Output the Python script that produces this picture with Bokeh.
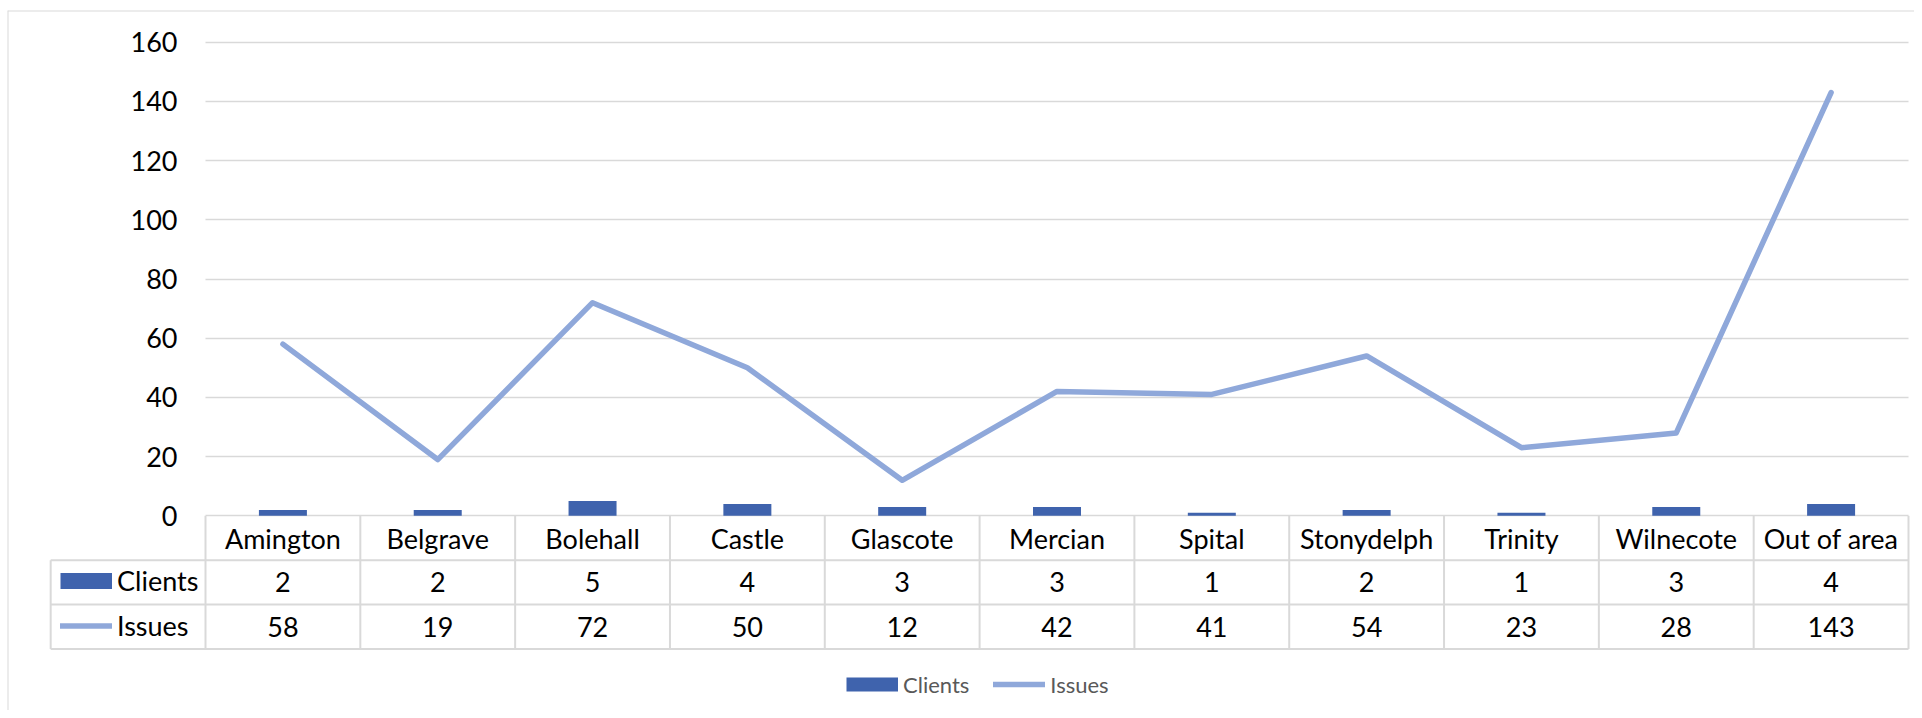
import numpy as np
from bokeh.plotting import figure
from bokeh.models import Range1d, FixedTicker, Legend, LegendItem, ColumnDataSource, Span
from bokeh.core.properties import value
from bokeh.embed import file_html
from bokeh.resources import INLINE

# ---- data ----
categories = ["Amington", "Belgrave", "Bolehall", "Castle", "Glascote", "Mercian",
              "Spital", "Stonydelph", "Trinity", "Wilnecote", "Out of area"]
clients = [2, 2, 5, 4, 3, 3, 1, 2, 1, 3, 4]
issues = [58, 19, 72, 50, 12, 42, 41, 54, 23, 28, 143]
y_ticks = [0, 20, 40, 60, 80, 100, 120, 140, 160]
series_names = ["Clients", "Issues"]

# ---- style ----
FONT = "Lato"
BAR_COLOR = "#3F63AD"
LINE_COLOR = "#8FA8DA"
GRID_COLOR = "#D9D9D9"
W, H = 1914, 710
FRAME_LEFT, FRAME_TOP = 7, 10
ROW = 15.0  # table row height in data units

n = len(categories)
centers = [i + 0.5 for i in range(n)]

# plot area: x=0 at 205px, x=n at 1908px; y=0 at 515.3px, 2.96 px per unit
px_per_cat = (1908.0 - 205.0) / n
px_per_unit = 2.96
x_range = Range1d(-(205.0 - FRAME_LEFT) / px_per_cat, n + (W - 1908.0) / px_per_cat)
y_range = Range1d(-(H - 515.3) / px_per_unit, (515.3 - FRAME_TOP) / px_per_unit)

p = figure(width=W, height=H, x_range=x_range, y_range=y_range,
           x_axis_location=None, y_axis_location=None,
           output_backend="svg", toolbar_location=None,
           min_border_left=FRAME_LEFT, min_border_right=0,
           min_border_top=FRAME_TOP, min_border_bottom=0)
p.outline_line_color = None
p.background_fill_color = "white"
p.border_fill_color = "white"

# chart border (top and left edges; the others lie outside the window)
p.add_layout(Span(location=y_range.end, dimension="width",
                  line_color=GRID_COLOR, line_width=2))
p.add_layout(Span(location=x_range.start, dimension="height",
                  line_color=GRID_COLOR, line_width=2))

p.xgrid.visible = False
p.ygrid.ticker = FixedTicker(ticks=y_ticks)
p.ygrid.grid_line_color = GRID_COLOR
p.ygrid.grid_line_width = 1.5
p.ygrid.cross_bounds = (0, n)

src = ColumnDataSource(dict(x=centers, cat=categories, clients=clients, issues=issues,
                            clients_txt=[str(v) for v in clients],
                            issues_txt=[str(v) for v in issues]))

bars = p.vbar(x="x", top="clients", bottom=0, width=0.31, source=src,
              fill_color=BAR_COLOR, line_color=None)
line = p.line(x="x", y="issues", source=src, line_color=LINE_COLOR, line_width=5.5,
              line_cap="round", line_join="round")

TXT = "27px"
# y tick labels
p.text(x=[0] * len(y_ticks), y=y_ticks, text=[str(t) for t in y_ticks],
       text_align="right", text_baseline="middle", x_offset=-28,
       text_font=value(FONT), text_font_size=TXT, text_color="#000000")

# data table borders
xs, ys = [], []
for i in range(n + 1):
    xs.append([i, i]); ys.append([0, -3 * ROW])
xs.append([-1, -1]); ys.append([-ROW, -3 * ROW])
for r in (1, 2, 3):
    xs.append([-1, n]); ys.append([-r * ROW, -r * ROW])
p.multi_line(xs=xs, ys=ys, line_color=GRID_COLOR, line_width=2)

# table texts
for col, row in (("cat", 0.5), ("clients_txt", 1.5), ("issues_txt", 2.5)):
    p.text(x="x", y=-row * ROW, text=col, source=src, text_align="center",
           text_baseline="middle", text_font=value(FONT), text_font_size=TXT,
           text_color="#000000")

# legend keys: a thick butt-capped line (no visible data) gives a full-width box key
key_src = ColumnDataSource(dict(x=np.array([np.nan]), y=np.array([np.nan])))
key_clients = p.line(x="x", y="y", source=key_src, line_color=BAR_COLOR,
                     line_width=16, line_cap="butt")
key_clients2 = p.line(x="x", y="y", source=key_src, line_color=BAR_COLOR,
                      line_width=14, line_cap="butt")

table_legend = Legend(items=[LegendItem(label=series_names[0], renderers=[key_clients]),
                             LegendItem(label=series_names[1], renderers=[line])],
                      location=(53, 62.5), orientation="vertical",
                      glyph_width=52, glyph_height=45, label_height=45,
                      label_standoff=5, spacing=0, padding=0, margin=0,
                      border_line_color=None, background_fill_alpha=0,
                      label_text_font=FONT, label_text_font_size=TXT,
                      label_text_color="#000000")
p.add_layout(table_legend)

bottom_legend = Legend(items=[LegendItem(label=series_names[0], renderers=[key_clients2]),
                              LegendItem(label=series_names[1], renderers=[line])],
                       location=(839, 11), orientation="horizontal",
                       glyph_width=52, glyph_height=30, label_height=30,
                       label_standoff=5, spacing=24, padding=0, margin=0,
                       border_line_color=None, background_fill_alpha=0,
                       label_text_font=FONT, label_text_font_size="22px",
                       label_text_color="#595959")
p.add_layout(bottom_legend)

open("out.html", "w").write(file_html(p, INLINE))
